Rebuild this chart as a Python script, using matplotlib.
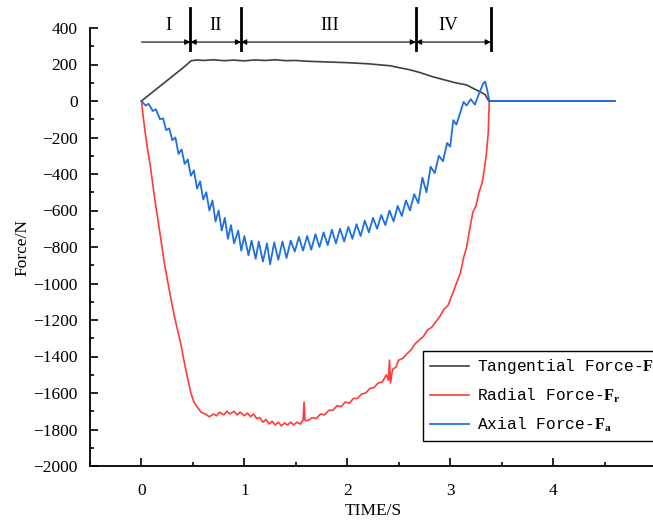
import matplotlib
matplotlib.use("Agg")
import matplotlib.pyplot as plt

plt.rcParams["mathtext.fontset"] = "custom"
plt.rcParams["mathtext.bf"] = "Liberation Serif:bold"
plt.rcParams["mathtext.rm"] = "Liberation Serif"

# ---------------- data ----------------
t_tan = [0.00, 0.10, 0.20, 0.30, 0.40, 0.485, 0.55, 0.60, 0.70, 0.80, 0.90, 1.00, 1.10, 1.20,
         1.30, 1.40, 1.50, 1.60, 1.70, 1.80, 1.90, 2.00, 2.10, 2.20, 2.30, 2.42, 2.50, 2.60,
         2.70, 2.83, 2.95, 3.05, 3.16, 3.22, 3.29, 3.34, 3.375, 4.60]
f_tan = [0, 45, 90, 135, 180, 221, 225, 222, 226, 221, 224, 220, 225, 222,
         226, 221, 222, 218, 216, 214, 212, 210, 207, 204, 199, 193, 183, 172,
         157, 133, 115, 100, 88, 70, 51, 35, 0, 0]

t_rad = [0.00, 0.02, 0.05, 0.087, 0.13, 0.18, 0.22, 0.27, 0.32, 0.38, 0.43, 0.48, 0.51, 0.54,
         0.58, 0.62, 0.66, 0.70, 0.73, 0.76, 0.80, 0.83, 0.86, 0.90, 0.93, 0.96, 1.00, 1.03,
         1.06, 1.09, 1.12, 1.15, 1.18, 1.21, 1.24, 1.27, 1.30, 1.33, 1.36, 1.39, 1.42, 1.45,
         1.48, 1.51, 1.54, 1.57, 1.58, 1.59, 1.62, 1.66, 1.70, 1.74, 1.78, 1.82, 1.86, 1.90,
         1.94, 1.98, 2.02, 2.06, 2.10, 2.14, 2.18, 2.22, 2.26, 2.30, 2.34, 2.38, 2.40, 2.41,
         2.42, 2.44, 2.47, 2.50, 2.54, 2.58, 2.62, 2.66, 2.70, 2.74, 2.78, 2.82, 2.86, 2.90,
         2.94, 2.98, 3.02, 3.06, 3.10, 3.13, 3.16, 3.19, 3.22, 3.25, 3.28, 3.31, 3.33, 3.35,
         3.37, 3.38]
f_rad = [0, -100, -230, -360, -540, -725, -880, -1035, -1180, -1326, -1470, -1600, -1650, -1675,
         -1705, -1715, -1730, -1715, -1725, -1705, -1720, -1700, -1715, -1700, -1720, -1705, -1725, -1710,
         -1730, -1715, -1740, -1735, -1760, -1745, -1770, -1755, -1775, -1760, -1780, -1765, -1775, -1760,
         -1775, -1760, -1770, -1750, -1650, -1750, -1750, -1735, -1740, -1715, -1720, -1695, -1695, -1670,
         -1675, -1650, -1655, -1630, -1630, -1605, -1600, -1575, -1570, -1545, -1540, -1500, -1530, -1420,
         -1545, -1470, -1460, -1420, -1410, -1385, -1364, -1330, -1310, -1290, -1255, -1240, -1210, -1180,
         -1140, -1120, -1060, -1000, -940, -860, -800, -700, -610, -575, -500, -450, -380, -300,
         -175, 0]

t_ax = [0.00, 0.04, 0.07, 0.11, 0.14, 0.18, 0.21, 0.24, 0.27, 0.30, 0.33, 0.36, 0.39, 0.42,
        0.45, 0.48, 0.51, 0.54, 0.57, 0.60, 0.63, 0.66, 0.69, 0.72, 0.75, 0.78, 0.81, 0.84,
        0.87, 0.90, 0.94, 0.97, 1.00, 1.04, 1.07, 1.11, 1.14, 1.18, 1.22, 1.25, 1.29, 1.33,
        1.37, 1.41, 1.45, 1.49, 1.53, 1.57, 1.61, 1.65, 1.69, 1.73, 1.77, 1.81, 1.85, 1.89,
        1.93, 1.97, 2.01, 2.05, 2.09, 2.13, 2.17, 2.21, 2.25, 2.29, 2.33, 2.37, 2.41, 2.45,
        2.49, 2.53, 2.57, 2.61, 2.65, 2.69, 2.73, 2.77, 2.81, 2.85, 2.89, 2.93, 2.97, 3.00,
        3.03, 3.06, 3.10, 3.13, 3.16, 3.20, 3.24, 3.28, 3.32, 3.34, 3.36, 3.38, 4.60]
f_ax = [0, -25, -15, -55, -45, -100, -95, -160, -150, -215, -200, -290, -265, -345,
        -320, -410, -380, -480, -440, -540, -500, -600, -545, -660, -600, -710, -640, -755,
        -680, -780, -710, -820, -740, -845, -765, -865, -770, -880, -780, -895, -775, -870,
        -770, -860, -765, -825, -745, -820, -740, -815, -730, -800, -720, -790, -705, -780,
        -700, -770, -690, -755, -675, -740, -655, -720, -640, -700, -625, -680, -600, -660,
        -575, -630, -545, -600, -510, -560, -420, -500, -360, -395, -300, -330, -230, -250,
        -105, -130, -60, -5, -25, 10, -20, 40, 95, 106, 60, 0, 0]

stage_bounds = [0.0, 0.476, 0.968, 2.667, 3.395]
stage_labels = ["I", "II", "III", "IV"]
x_ticks = [0, 1, 2, 3, 4, 5]
y_ticks = list(range(-2000, 401, 200))

# ---------------- figure ----------------
W, H = 653, 520
fig = plt.figure(figsize=(W / 100, H / 100), dpi=100)
ax = fig.add_axes([90 / W, (H - 466) / H, (656 - 90) / W, (466 - 28) / H])

serif = "Liberation Serif"

ax.plot(t_rad, f_rad, color="#ff3b3b", lw=1.2, label=r"Radial Force-$\mathbf{F_r}$", zorder=2)
ax.plot(t_tan, f_tan, color="#404040", lw=1.2, label=r"Tangential Force-$\mathbf{F_t}$", zorder=3)
ax.plot(t_ax, f_ax, color="#1f6fe0", lw=1.3, label=r"Axial Force-$\mathbf{F_a}$", zorder=4)

ax.set_xlim(-0.5, 5)
ax.set_ylim(-2000, 400)
ax.set_xticks(x_ticks)
ax.set_yticks(y_ticks)
ax.set_xticks([-0.5 + 0.5 * i for i in range(12)], minor=True)
ax.set_yticks(list(range(-2000, 401, 100)), minor=True)
ax.tick_params(which="both", direction="in", width=1.2, labelsize=12.5)
ax.tick_params(which="major", length=6)
ax.tick_params(which="minor", length=3)
ax.tick_params(axis="y", which="major", pad=9)
ax.tick_params(axis="x", which="major", pad=12)
ax.set_yticklabels([str(v).replace("-", "\u2212") for v in y_ticks])
for lab in ax.get_xticklabels() + ax.get_yticklabels():
    lab.set_family(serif)

for s in ["top", "right"]:
    ax.spines[s].set_visible(False)
for s in ["left", "bottom"]:
    ax.spines[s].set_linewidth(1.3)

ax.set_xlabel("TIME/S", family=serif, fontsize=12.5, labelpad=3)
ax.set_ylabel("Force/N", family=serif, fontsize=12.5, labelpad=2)

# stage annotations
y_arrow = 323
for b in stage_bounds[1:]:
    ax.plot([b, b], [280, 510], color="black", lw=2, clip_on=False, zorder=5)
for i in range(4):
    a, b = stage_bounds[i], stage_bounds[i + 1]
    style = "-|>" if i == 0 else "<|-|>"
    ax.annotate("", xy=(b, y_arrow), xytext=(a, y_arrow),
                arrowprops=dict(arrowstyle=style, color="black", lw=0.8,
                                mutation_scale=8, shrinkA=0, shrinkB=0),
                annotation_clip=False)
label_x = [0.26, 0.72, 1.83, 2.98]
for lx, lab in zip(label_x, stage_labels):
    ax.text(lx, 416, lab, ha="center", va="center", family=serif, fontsize=13.5, clip_on=False)

# legend
handles, labels = ax.get_legend_handles_labels()
order = [1, 0, 2]
leg = fig.legend([handles[i] for i in order], [labels[i] for i in order],
                 loc="upper left", bbox_to_anchor=(423 / W, (H - 351) / H),
                 borderaxespad=0,
                 prop={"family": "Liberation Mono", "size": 11.7},
                 frameon=True, fancybox=False, framealpha=1, edgecolor="black",
                 handlelength=2.4, borderpad=0.4, labelspacing=0.65, handletextpad=0.55)
leg.get_frame().set_linewidth(1.0)

fig.savefig("out.png", dpi=100)
